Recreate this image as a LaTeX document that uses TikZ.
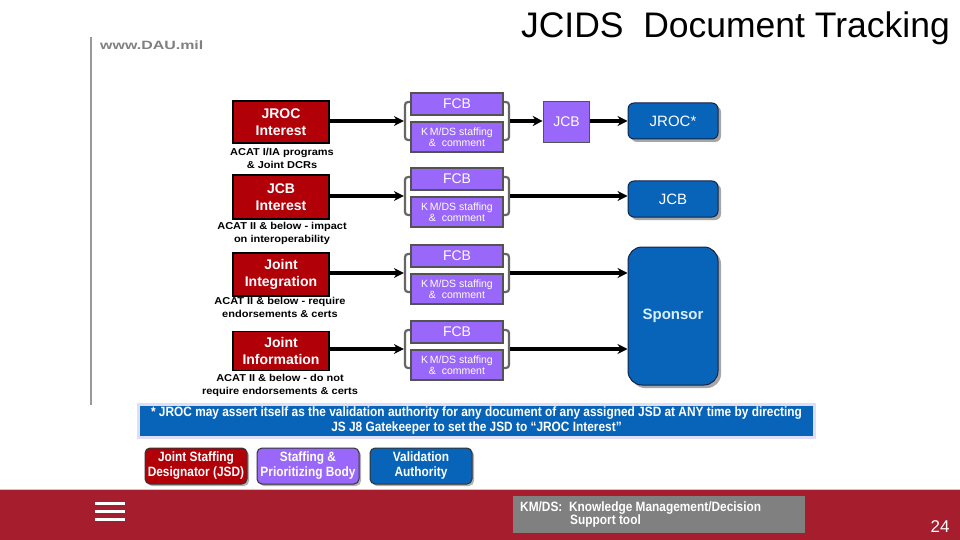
\documentclass[tikz,border=0pt]{standalone}
\usepackage{fontspec}
\setmainfont{Liberation Sans}
\newfontfamily\narrow[FakeStretch=0.88]{Liberation Sans}
\newfontfamily\widefont[FakeStretch=1.33]{Liberation Sans}
\newfontfamily\capfont[FakeStretch=1.1]{Liberation Sans}
\usetikzlibrary{arrows.meta,shadows}
\definecolor{jsdred}{RGB}{178,0,8}
\definecolor{spbpurple}{RGB}{153,104,250}
\definecolor{vablue}{RGB}{8,100,184}
\definecolor{vaborder}{RGB}{20,35,70}
\definecolor{barred}{RGB}{166,30,46}
\definecolor{sponsortext}{RGB}{215,240,255}
\definecolor{kmgray}{RGB}{128,128,128}
\begin{document}
\begin{tikzpicture}[x=1pt,y=-1pt,
  jsd/.style={draw=black, line width=1.6pt, fill=jsdred, text=white, align=center, inner sep=0pt,
    font=\bfseries\fontsize{14}{17}\selectfont, minimum width=96pt},
  captxt/.style={align=center, font=\capfont\bfseries\fontsize{10}{13}\selectfont, inner sep=0pt},
  bracket/.style={draw=gray!80!black, line width=2.2pt, rounded corners=3pt, minimum width=104pt, minimum height=38pt, inner sep=0pt},
  fcb/.style={draw=gray!65!black, line width=1.6pt, fill=spbpurple, text=white, inner sep=0pt,
    minimum width=92pt, minimum height=22pt, font=\fontsize{14}{16}\selectfont},
  kmds/.style={draw=gray!65!black, line width=1.6pt, fill=spbpurple, text=white, inner sep=0pt, align=center,
    minimum width=92pt, minimum height=30pt, font=\fontsize{10.5}{11.5}\selectfont},
  va/.style={draw=vaborder, line width=1pt, fill=vablue, text=white, rounded corners=6pt, inner sep=0pt,
    minimum width=90pt, drop shadow={shadow xshift=3pt, shadow yshift=-3pt, fill=gray!70, opacity=1},
    font=\fontsize{15}{18}\selectfont},
  arr/.style={line width=3.2pt, -{Stealth[length=10pt,width=10pt]}},
  legend/.style={draw=black!80, line width=1pt, rounded corners=5pt, text=white, align=center, inner sep=0pt,
    minimum width=102pt, minimum height=36pt, font=\narrow\bfseries\fontsize{13.5}{15}\selectfont,
    drop shadow={shadow xshift=2pt, shadow yshift=-2pt, fill=gray!60, opacity=1}},
]
\useasboundingbox (0,0) rectangle (960,540);
\fill[white] (0,0) rectangle (960,540);

% header
\node[anchor=base east, font=\fontsize{35.5}{40}\selectfont, inner sep=0pt] (title) at (950,38) {JCIDS\ \ Document Tracking};
\node[anchor=base west, text=gray, font=\widefont\bfseries\fontsize{12}{14}\selectfont, inner sep=0pt] (dau) at (100,49.5) {www.DAU.mil};
\coordinate (vtop) at (91,37);
\coordinate (vbot) at (91,405);
\draw[gray!80, line width=1.5pt] (vtop) -- (vbot);

% JSD boxes
\node[jsd, minimum height=42pt] (jroc) at (281,122) {JROC\\Interest};
\node[captxt] (c1) at (282,158) {ACAT I/IA programs\\\& Joint DCRs};
\node[jsd, minimum height=44pt] (jcbi) at (281,197) {JCB\\Interest};
\node[captxt] (c2) at (282,233.5) {ACAT II \& below - impact\\on interoperability};
\node[jsd, minimum height=43pt] (jint) at (281,274.5) {Joint\\Integration};
\node[captxt] (c3) at (280,307.5) {ACAT II \& below - require\\endorsements \& certs};
\node[jsd, minimum height=39pt] (jinf) at (281,351) {Joint\\Information};
\node[captxt] (c4) at (280,385) {ACAT II \& below - do not\\require endorsements \& certs};

% FCB groups
\foreach \i/\y in {1/121, 2/196, 3/273, 4/349} {
  \node[bracket] (g\i) at (457,\y) {};
  \node[fcb] (f\i) at (457,\y-17) {FCB};
  \node[kmds] (k\i) at (457,\y+16) {K\,M/DS staffing\\\&\ \ comment};
}

% right side
\node[fcb, minimum width=46pt, minimum height=41pt] (jcbp) at (566.5,122) {JCB};
\node[va, minimum height=36pt] (jrocs) at (673,121) {JROC*};
\node[va, minimum height=36pt] (jcbb) at (673,199) {JCB};
\node[va, minimum height=138pt, rounded corners=14pt, text=sponsortext, font=\bfseries\fontsize{15}{18}\selectfont] (spon) at (673,316) {Sponsor};

% arrows
\draw[arr] (jroc.east |- g1.west) -- (g1.west);
\draw[arr] (jcbi.east |- g2.west) -- (g2.west);
\draw[arr] (jint.east |- g3.west) -- (g3.west);
\draw[arr] (jinf.east |- g4.west) -- (g4.west);
\draw[arr] (g1.east) -- (g1.east -| jcbp.west);
\draw[arr] (jcbp.east |- g1.east) -- (g1.east -| jrocs.west);
\draw[arr] (g2.east) -- (g2.east -| jcbb.west);
\draw[arr] (g3.east) -- (g3.east -| spon.west);
\draw[arr] (g4.east) -- (g4.east -| spon.west);

% footnote
\node[draw=gray!30!blue!15, line width=3pt, fill=vablue, text=white, align=center, inner sep=0pt,
  minimum width=676pt, minimum height=33pt, font=\narrow\bfseries\fontsize{13.5}{15}\selectfont] (note) at (476.5,420.5)
  {* JROC may assert itself as the validation authority for any document of any assigned JSD at ANY time by directing\\JS J8 Gatekeeper to set the JSD to “JROC Interest”};

% legend
\node[legend, fill=jsdred] (l1) at (196,466) {Joint Staffing\\Designator (JSD)};
\node[legend, fill=spbpurple] (l2) at (308,466) {Staffing \&\\Prioritizing Body};
\node[legend, fill=vablue] (l3) at (421,466) {Validation\\Authority};

% bottom bar
\fill[barred] (0,489) rectangle (960,540);
\draw[red!30!white, line width=0.8pt] (0,489) -- (960,489);
\foreach \yy/\n in {503.5/a, 511.5/b, 519.5/c} {
  \coordinate (h\n1) at (95,\yy);
  \coordinate (h\n2) at (125,\yy);
  \draw[white, line width=3pt] (h\n1) -- (h\n2);
}
\node[fill=kmgray, minimum width=292pt, minimum height=37pt, inner sep=0pt] (kmbox) at (659,514.5) {};
\node[anchor=west, text=white, font=\narrow\bfseries\fontsize{13.5}{14}\selectfont, inner sep=0pt] (kmt1) at (520,508) {KM/DS:\ \ Knowledge Management/Decision};
\node[anchor=west, text=white, font=\narrow\bfseries\fontsize{13.5}{14}\selectfont, inner sep=0pt] (kmt2) at (570,521) {Support tool};
\node[text=white, font=\fontsize{17}{18}\selectfont, inner sep=0pt] (page) at (940,527) {24};
\end{tikzpicture}
\end{document}
